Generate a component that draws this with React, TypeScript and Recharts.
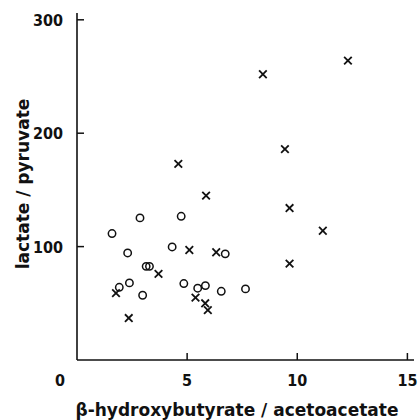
import { ScatterChart, Scatter, XAxis, YAxis, Label } from 'recharts'

// crosses (x: hydroxybutyrate/acetoacetate, y: lactate/pyruvate)
const crossX = [12.3, 8.44, 9.44, 4.6, 5.86, 9.65, 11.16, 5.1, 6.32, 9.65, 3.7, 1.77, 2.35, 5.38, 5.82, 5.94]
const crossY = [264, 252, 186, 173, 145, 134, 114, 97, 95, 85, 76, 59, 37, 55, 50, 44]

// open circles
const circleX = [1.59, 2.86, 4.73, 2.3, 4.32, 6.73, 3.14, 3.29, 1.92, 2.38, 2.98, 4.85, 5.48, 5.83, 6.55, 7.65]
const circleY = [111.5, 125.3, 126.7, 94.4, 99.7, 93.6, 82.6, 82.6, 64.1, 68, 57.1, 67.4, 63.3, 65.6, 60.6, 62.7]

const xTicks = [0, 5, 10, 15]
const yTicks = [100, 200, 300]

const crosses = crossX.map((x, i) => ({ x, y: crossY[i] }))
const circles = circleX.map((x, i) => ({ x, y: circleY[i] }))

const FONT = '"DejaVu Sans Condensed", "DejaVu Sans", sans-serif'
const TITLE_FONT = '"DejaVu Sans", sans-serif'
const INK = '#111'

const CrossShape = (props: any) => {
  const { cx, cy } = props
  const s = 3.8
  return (
    <g stroke={INK} strokeWidth={1.8}>
      <line x1={cx - s} y1={cy - s} x2={cx + s} y2={cy + s} />
      <line x1={cx - s} y1={cy + s} x2={cx + s} y2={cy - s} />
    </g>
  )
}

const CircleShape = (props: any) => {
  const { cx, cy } = props
  return <circle cx={cx} cy={cy} r={3.7} fill="none" stroke={INK} strokeWidth={1.5} />
}

const XTick = (props: any) => {
  const { x, y, payload } = props
  const v = payload.value
  return (
    <g>
      {v !== 0 && <line x1={x} y1={y} x2={x} y2={y - 7} stroke={INK} strokeWidth={1.5} />}
      <text x={v === 0 ? x - 17 : x} y={y + 26} textAnchor="middle" fontFamily={FONT} fontWeight="bold" fontSize={16} fill={INK}>
        {v}
      </text>
    </g>
  )
}

const YTick = (props: any) => {
  const { x, y, payload } = props
  return (
    <g>
      <line x1={x} y1={y} x2={x + 7} y2={y} stroke={INK} strokeWidth={1.5} />
      <text x={x - 14} y={y + 6} textAnchor="end" fontFamily={FONT} fontWeight="bold" fontSize={16} fill={INK}>
        {payload.value}
      </text>
    </g>
  )
}

export default function App() {
  return (
    <div style={{ position: 'absolute', left: 0, top: 0, background: '#fff' }}>
      <ScatterChart width={419} height={420} margin={{ top: 13, right: 5, bottom: 0, left: 0 }}>
        <XAxis
          type="number"
          dataKey="x"
          domain={[0, 15.3]}
          ticks={xTicks}
          height={60}
          tickSize={0}
          tickMargin={0}
          tickLine={false}
          tick={<XTick />}
          axisLine={{ stroke: INK, strokeWidth: 1.6 }}
        >
          <Label
            content={() => (
              <text x={237} y={416} textAnchor="middle" fontFamily={TITLE_FONT} fontWeight="bold" fontSize={17} fill={INK}>
                β-hydroxybutyrate / acetoacetate
              </text>
            )}
          />
        </XAxis>
        <YAxis
          type="number"
          dataKey="y"
          domain={[0, 306]}
          ticks={yTicks}
          width={77}
          tickSize={0}
          tickMargin={0}
          tickLine={false}
          tick={<YTick />}
          axisLine={{ stroke: INK, strokeWidth: 1.6 }}
        >
          <Label
            content={() => (
              <text x={29} y={184} transform="rotate(-90 29 184)" textAnchor="middle" fontFamily={TITLE_FONT} fontWeight="bold" fontSize={17} fill={INK}>
                lactate / pyruvate
              </text>
            )}
          />
        </YAxis>
        <Scatter data={circles} shape={<CircleShape />} isAnimationActive={false} />
        <Scatter data={crosses} shape={<CrossShape />} isAnimationActive={false} />
      </ScatterChart>
    </div>
  )
}
